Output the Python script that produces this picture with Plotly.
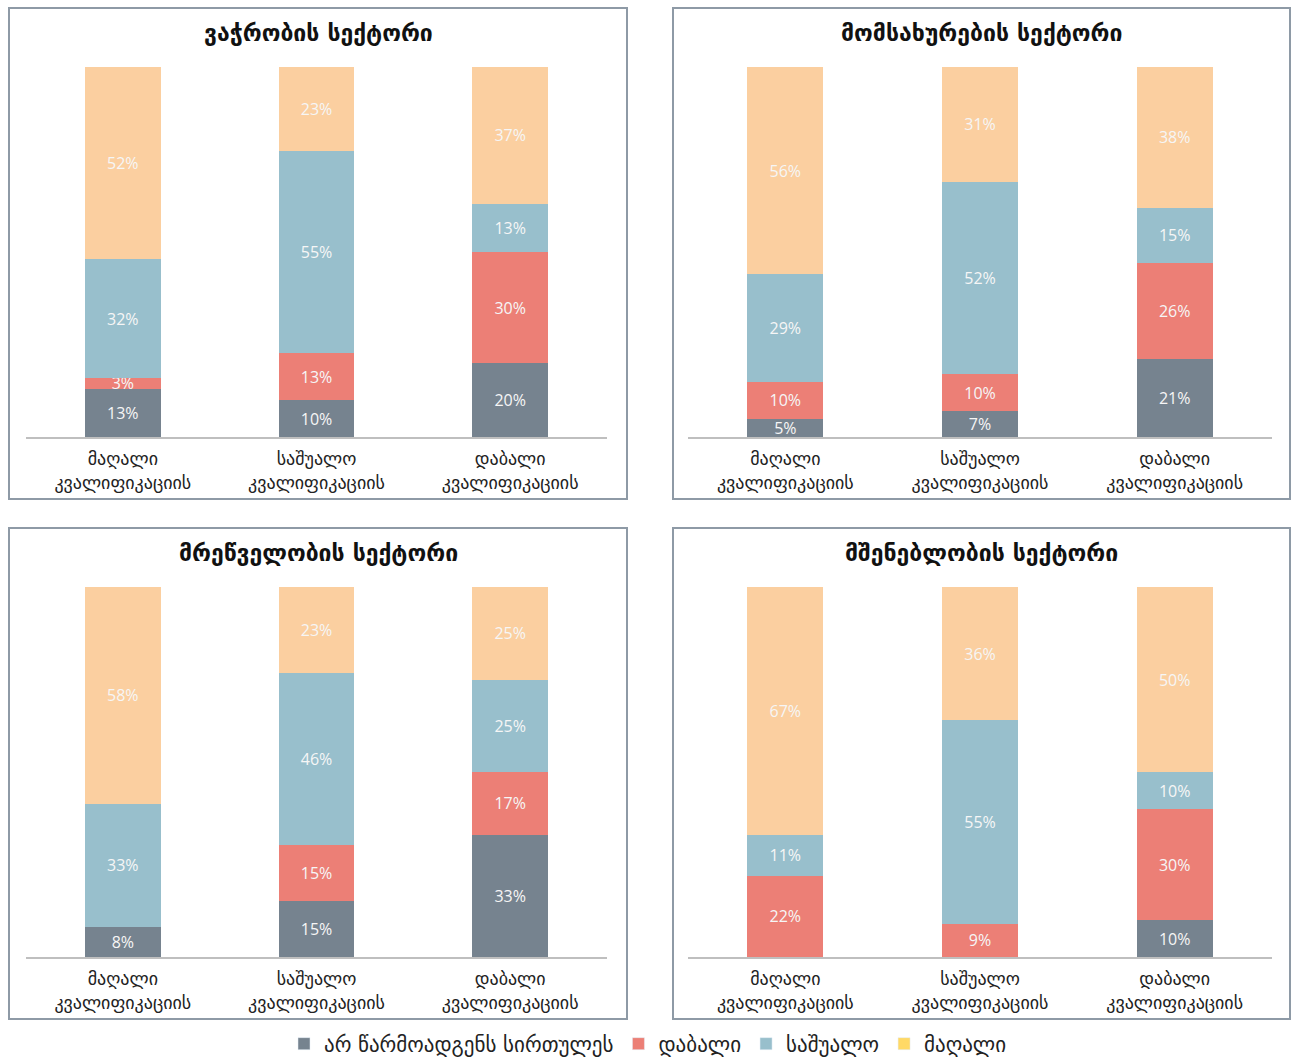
import plotly.graph_objects as go
from plotly.subplots import make_subplots

# categories (x axis) and series
categories = ["მაღალი<br>კვალიფიკაციის", "საშუალო<br>კვალიფიკაციის", "დაბალი<br>კვალიფიკაციის"]
series_names = ["არ წარმოადგენს სირთულეს", "დაბალი", "საშუალო", "მაღალი"]
panel_titles = ["ვაჭრობის სექტორი", "მომსახურების სექტორი",
                "მრეწველობის სექტორი", "მშენებლობის სექტორი"]

# values per panel: [none, low, medium, high] for each category
trade = [[13, 10, 20], [3, 13, 30], [32, 55, 13], [52, 23, 37]]
services = [[5, 7, 21], [10, 10, 26], [29, 52, 15], [56, 31, 38]]
industry = [[8, 15, 33], [0, 15, 17], [33, 46, 25], [58, 23, 25]]
construction = [[0, 0, 10], [22, 9, 30], [11, 55, 10], [67, 36, 50]]
panels = [trade, services, industry, construction]

BAR_COLORS = ["#76838F", "#EC7F76", "#98BFCC", "#FBCFA0"]
LEGEND_COLORS = ["#76838F", "#EC7F76", "#98BFCC", "#FFD966"]

# body margin is removed in post_script; figure is a bit taller than the
# window so the legend never forces an automatic bottom margin
W, H = 1292, 1100


def px_x(p):
    return p / W


def px_y(p):
    return 1 - p / H


fig = make_subplots(rows=2, cols=2)

for i, data in enumerate(panels):
    r, c = i // 2 + 1, i % 2 + 1
    for s, vals in enumerate(data):
        fig.add_trace(go.Bar(
            x=categories, y=vals,
            text=[f"{v}%" if v > 0 else "" for v in vals],
            textposition="inside", insidetextanchor="middle",
            textfont=dict(family="Open Sans", size=16, color="#F6F6F6"),
            marker=dict(color=BAR_COLORS[s], line=dict(width=0)),
            width=0.39, showlegend=False, hoverinfo="skip",
        ), row=r, col=c)

# legend entries (legend swatch colour differs for the last one)
for s, name in enumerate(series_names):
    fig.add_trace(go.Bar(x=[categories[0]], y=[None], name=name,
                         marker=dict(color=LEGEND_COLORS[s]), showlegend=True),
                  row=1, col=1)

xdom = [[px_x(26), px_x(607)], [px_x(688), px_x(1272)]]
ydom = [[px_y(437), px_y(67)], [px_y(957), px_y(587)]]

for i in range(4):
    r, c = i // 2, i % 2
    n = "" if i == 0 else str(i + 1)
    fig.layout["xaxis" + n].update(
        domain=xdom[c], showline=True, linecolor="#BFBFBF", linewidth=1.5,
        showgrid=False, ticks="", range=[-0.5, 2.5], automargin=False,
        ticklabelstandoff=5,
        tickfont=dict(family="DejaVu Sans", size=18, color="#222222"))
    fig.layout["yaxis" + n].update(
        domain=ydom[r], range=[0, 100], visible=False, showgrid=False)

# panel frames and titles
boxes = [(9, 8, 627, 499), (673, 8, 1290, 499), (9, 528, 627, 1019), (673, 528, 1290, 1019)]
for i, (x0, y0, x1, y1) in enumerate(boxes):
    fig.add_shape(type="rect", xref="paper", yref="paper",
                  x0=px_x(x0), x1=px_x(x1), y0=px_y(y1), y1=px_y(y0),
                  line=dict(color="#8E9AA6", width=2), layer="below")
    fig.add_annotation(text=f"<b>{panel_titles[i]}</b>", xref="paper", yref="paper",
                       x=px_x((x0 + x1) / 2), y=px_y(y0 + 25),
                       showarrow=False, xanchor="center", yanchor="middle",
                       font=dict(family="DejaVu Sans", size=23, color="#111111"))

fig.update_layout(
    width=W, height=H,
    margin=dict(l=0, r=0, t=0, b=0),
    barmode="stack", barnorm="percent",
    plot_bgcolor="white", paper_bgcolor="white",
    uniformtext=dict(minsize=16, mode="show"),
    legend=dict(orientation="h", x=px_x(648), xanchor="center", y=px_y(1044),
                yanchor="middle", font=dict(family="DejaVu Sans", size=21, color="#222222"),
                itemwidth=30, traceorder="normal"),
)

fig.write_html(
    "out.html",
    config={"displayModeBar": False},
    post_script="document.body.style.margin='0';document.body.style.overflow='hidden';",
)
